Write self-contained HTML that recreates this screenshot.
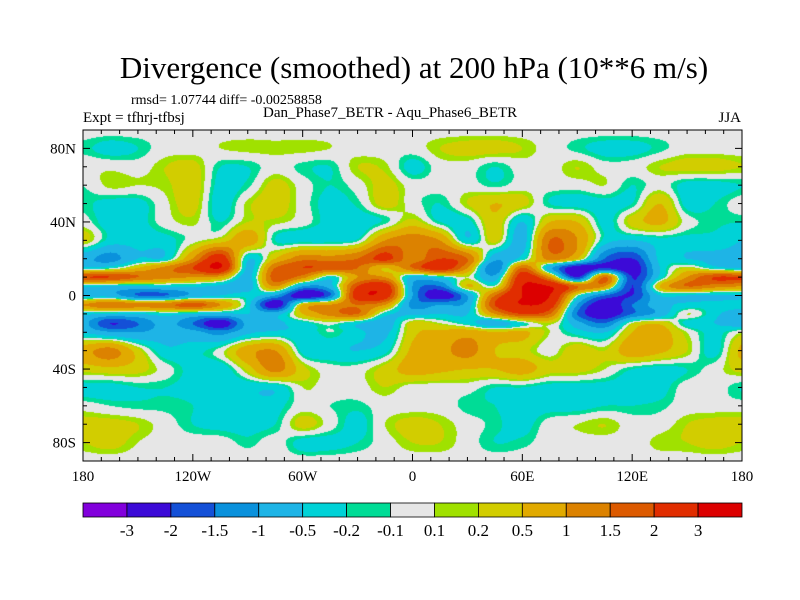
<!DOCTYPE html>
<html><head><meta charset="utf-8">
<style>
body{margin:0;background:#fff;width:800px;height:600px;overflow:hidden;position:relative;font-family:"Liberation Serif",serif;}
.t{position:absolute;white-space:nowrap;color:#000;}
canvas{position:absolute;}
</style></head>
<body>
<div class="t" style="left:0;width:828px;text-align:center;top:50px;font-size:31px;">Divergence (smoothed) at 200 hPa (10**6 m/s)</div>
<div class="t" style="left:131px;top:93px;font-size:14px;">rmsd= 1.07744 diff= -0.00258858</div>
<div class="t" style="left:83px;top:110px;font-size:15px;">Expt = tfhrj-tfbsj</div>
<div class="t" style="left:263px;top:105px;font-size:15px;">Dan_Phase7_BETR - Aqu_Phase6_BETR</div>
<div class="t" style="right:59px;top:110px;font-size:15px;">JJA</div>
<canvas id="map" width="659" height="331" style="left:83px;top:130px"></canvas>
<svg id="ov" width="800" height="600" style="position:absolute;left:0;top:0"></svg>
<script>
const lons=[-180,-165,-150,-135,-120,-105,-90,-75,-60,-45,-30,-15,0,15,30,45,60,75,90,105,120,135,150,165,180];
const lats=[90,80,70,60,50,40,30,20,15,10,5,0,-5,-10,-15,-20,-30,-40,-50,-60,-70,-80,-90];
const grid=[
[0,0,0,0,0,0,0,0,0,0,0,0,0,0,0,0,0,0,0,0,0,0,0,0,0],
[-0.15,-0.3,-0.2,0,0,0.1,0.15,0.15,0.15,0.1,0,0,0,0.2,0.3,0.3,0.2,0,-0.15,-0.3,-0.3,-0.15,0,0,0],
[0.05,0.05,0,0.2,0.3,-0.2,-0.2,0,-0.15,-0.2,0.2,0.15,-0.3,0,0,-0.2,0,0,0.2,0,0,0.2,0.3,0.3,0.2],
[-0.1,0.15,0.1,0.15,0.35,-0.3,-0.15,0.3,0,-0.2,0,0.3,0,0,0,-0.15,0,0,0,0.1,-0.2,0,-0.3,-0.3,-0.2],
[-0.15,-0.3,-0.3,0.05,0.3,-0.35,0.15,0.35,0,-0.3,-0.15,0.3,0,-0.2,0.2,0.5,0.3,-0.2,-0.3,-0.3,-0.2,0.5,-0.3,-0.2,0],
[0,-0.35,-0.3,0,0.15,-0.2,0.2,0.15,0,-0.3,-0.35,-0.15,0.3,-0.2,-0.3,0.4,-0.5,0.5,0.5,-0.3,0.3,0.6,0,-0.15,-0.2],
[0.3,-0.3,-0.35,-0.3,0,0.3,0.8,-0.2,-0.3,-0.3,-0.15,1.0,1.3,1.0,-0.4,0.3,-0.7,1.5,1.0,-0.3,-0.5,-0.3,-0.3,-0.3,-0.5],
[-0.8,-1.2,-0.5,-0.4,1.0,2.5,-0.4,0.5,1.3,1.2,1.5,2.2,1.2,2.0,1.5,-0.8,-0.3,1.2,0.5,-1.5,-2.0,-0.4,-0.5,-0.6,-0.6],
[-0.4,-0.2,0.5,1.2,2.0,3.0,-0.6,1.5,2.0,1.8,1.5,0.5,1.5,2.5,1.0,-1.5,1.5,-0.8,-2.5,-2.0,-2.5,-0.5,0.2,-0.3,-0.6],
[2.0,2.0,1.5,1.2,1.0,0.8,-0.7,1.8,1.2,-0.3,1.0,1.0,-0.6,-0.3,0.1,-0.8,2.5,1.0,-2.0,1.5,-2.0,-0.4,1.0,2.0,2.0],
[-0.4,-0.5,-0.5,-0.4,-0.4,-0.6,-0.8,1.0,-1.0,-0.7,2.0,2.5,-1.0,-1.5,0.5,0,3.0,3.0,1.5,1.0,-2.0,0.5,1.5,1.2,1.0],
[-0.7,-0.7,-1.5,-1.5,-0.8,-0.5,-0.3,-1.0,-2.5,-1.5,2.5,2.5,-1.0,-2.5,-1.0,1.5,3.0,3.0,0,-1.5,-2.0,-0.5,-0.5,-0.6,-0.5],
[1.0,1.5,1.2,1.3,1.8,1.0,-0.3,-2.5,0.5,1.0,1.5,1.0,-1.2,-1.0,-0.8,2.0,3.0,2.5,-1.0,-2.5,-1.5,-0.7,-0.4,-0.3,-0.3],
[-0.4,-0.5,-0.5,-0.3,-0.5,-0.6,-0.5,-0.7,0.5,1.2,1.5,-0.3,-0.6,-0.5,-0.5,1.0,2.0,1.5,-1.5,-2.5,-1.5,-0.8,0.1,-0.4,-0.8],
[-0.8,-2.0,-1.5,-0.8,-1.5,-2.5,-0.8,-0.6,-0.3,0,-0.4,-0.8,0.3,0.1,-0.3,-0.8,-0.2,0.2,-0.8,-1.5,0.1,0.4,-0.3,-0.5,-0.8],
[-0.5,-0.9,-1.0,-0.7,-0.8,-1.2,-0.6,-0.4,-0.4,-0.1,-0.4,-0.6,0.4,0.6,0.8,0.5,0.6,0.1,-0.3,-0.5,0.5,0.7,0.1,-0.3,0.1],
[0.8,1.2,0.3,-0.4,-0.3,0,0.8,1.0,-0.3,-0.4,-0.5,-0.3,0.6,0.8,1.2,0.5,0.3,0,0.4,0.2,0.8,0.6,0.2,-0.3,0.6],
[0.3,0.4,0.3,0,-0.3,-0.4,0.3,1.2,0.3,0,0,0.3,0.7,0.6,0.5,0.5,0.7,0.3,0.3,0.1,-0.2,-0.3,-0.2,0,0.3],
[-0.3,-0.3,-0.2,-0.2,-0.3,-0.4,-0.4,-0.4,0.1,0,0,0.2,0,0,0,-0.2,-0.2,-0.3,-0.3,-0.3,-0.3,-0.3,0,0,-0.2],
[0,-0.1,-0.15,-0.15,-0.2,-0.4,-0.4,-0.3,0,-0.1,-0.15,0,0,0,-0.15,-0.2,-0.3,-0.3,-0.3,-0.2,-0.2,-0.15,0,0,0],
[0.3,0.3,0.2,0,-0.2,-0.3,-0.3,-0.2,0.3,0,-0.3,0.1,0.3,0.2,0,-0.15,-0.3,0,0.1,0.2,0,0,0.2,0.3,0.3],
[0.2,0.3,0.1,0,0,0,-0.15,0,-0.3,-0.3,-0.2,0,0.2,0.2,0,-0.2,-0.15,0,0,0,0,0.15,0.2,0.3,0.2],
[0,0,0,0,0,0,0,0,0,0,0,0,0,0,0,0,0,0,0,0,0,0,0,0,0]
];
const levels=[-3,-2,-1.5,-1,-0.5,-0.2,-0.1,0.1,0.2,0.5,1,1.5,2,3];
const levelLabels=["-3","-2","-1.5","-1","-0.5","-0.2","-0.1","0.1","0.2","0.5","1","1.5","2","3"];
const colors=["#8200dc","#3c0ad7","#1450d7","#0a91dc","#1eb4e6","#00d2d7","#00dc96","#e6e6e6","#a0e100","#d2cd00","#e1aa00","#dc8200","#dc5a00","#e12d00","#dc0000"];
const xTickLabels=["180","120W","60W","0","60E","120E","180"];
const xTickLons=[-180,-120,-60,0,60,120,180];
const yTickLabels=["80N","40N","0","40S","80S"];
const yTickLats=[80,40,0,-40,-80];

const X0=83,Y0=130,W=659,H=331;
const xOf=lon=>X0+(lon+180)/360*W;
const yOf=lat=>Y0+(90-lat)/180*H;

function cr(p0,p1,p2,p3,t){const t2=t*t,t3=t2*t;
  return 0.5*((2*p1)+(-p0+p2)*t+(2*p0-5*p1+4*p2-p3)*t2+(-p0+3*p1-3*p2+p3)*t3);}
function g(j,i){j=Math.max(0,Math.min(lats.length-1,j));i=Math.max(0,Math.min(lons.length-1,i));return grid[j][i];}
function sample(lon,lat){
  let i=Math.min(Math.floor((lon+180)/15),lons.length-2);
  let tx=(lon-lons[i])/15;
  let j=0;while(j<lats.length-2&&lat<lats[j+1])j++;
  let ty=(lats[j]-lat)/(lats[j]-lats[j+1]);
  const r=[];
  for(let k=-1;k<=2;k++)r.push(cr(g(j+k,i-1),g(j+k,i),g(j+k,i+1),g(j+k,i+2),tx));
  return cr(r[0],r[1],r[2],r[3],ty);
}
function colorIdx(v){let k=0;while(k<levels.length&&v>=levels[k])k++;return k;}
const rgb=colors.map(h=>[parseInt(h.substr(1,2),16),parseInt(h.substr(3,2),16),parseInt(h.substr(5,2),16)]);
const cv=document.getElementById('map');const ctx=cv.getContext('2d');
const img=ctx.createImageData(W,H);
for(let py=0;py<H;py++){const lat=90-(py+0.5)/H*180;
  for(let px=0;px<W;px++){const lon=-180+(px+0.5)/W*360;
    const c=rgb[colorIdx(sample(lon,lat))];const o=(py*W+px)*4;
    img.data[o]=c[0];img.data[o+1]=c[1];img.data[o+2]=c[2];img.data[o+3]=255;}}
ctx.putImageData(img,0,0);

const NS='http://www.w3.org/2000/svg';const svg=document.getElementById('ov');
function mk(tag,attrs,name){const e=document.createElementNS(NS,tag);for(const k in attrs)e.setAttribute(k,attrs[k]);


svg.appendChild(e);return e;}
mk('rect',{x:X0,y:Y0,width:W,height:H,fill:'none',stroke:'#000','stroke-width':1},'plot-frame');
for(let lon=-180;lon<=180;lon+=10){const x=xOf(lon);const L=lon%60===0?7:4;
  mk('line',{x1:x,y1:Y0,x2:x,y2:Y0+L,stroke:'#000'},'x-tick-top');
  mk('line',{x1:x,y1:Y0+H,x2:x,y2:Y0+H-L,stroke:'#000'},'x-tick-bottom');}
for(let lat=-90;lat<=90;lat+=10){const y=yOf(lat);const L=lat%40===0?7:4;
  mk('line',{x1:X0,y1:y,x2:X0+L,y2:y,stroke:'#000'},'y-tick-left');
  mk('line',{x1:X0+W,y1:y,x2:X0+W-L,y2:y,stroke:'#000'},'y-tick-right');}
xTickLabels.forEach((t,i)=>{const e=mk('text',{x:xOf(xTickLons[i]),y:481,'text-anchor':'middle','font-family':'Liberation Serif, serif','font-size':15},'x-tick-label');e.textContent=t;});
yTickLabels.forEach((t,i)=>{const e=mk('text',{x:76,y:yOf(yTickLats[i])+5,'text-anchor':'end','font-family':'Liberation Serif, serif','font-size':15},'y-tick-label');e.textContent=t;});
const cbW=W/colors.length;
colors.forEach((c,i)=>{mk('rect',{x:X0+i*cbW,y:503,width:cbW,height:14,fill:c,stroke:'#000','stroke-width':0.8},'colorbar-box');});
levelLabels.forEach((t,i)=>{const e=mk('text',{x:X0+(i+1)*cbW,y:536,'text-anchor':'middle','font-family':'Liberation Serif, serif','font-size':17},'colorbar-label');e.textContent=t;});
</script>
</body></html>
